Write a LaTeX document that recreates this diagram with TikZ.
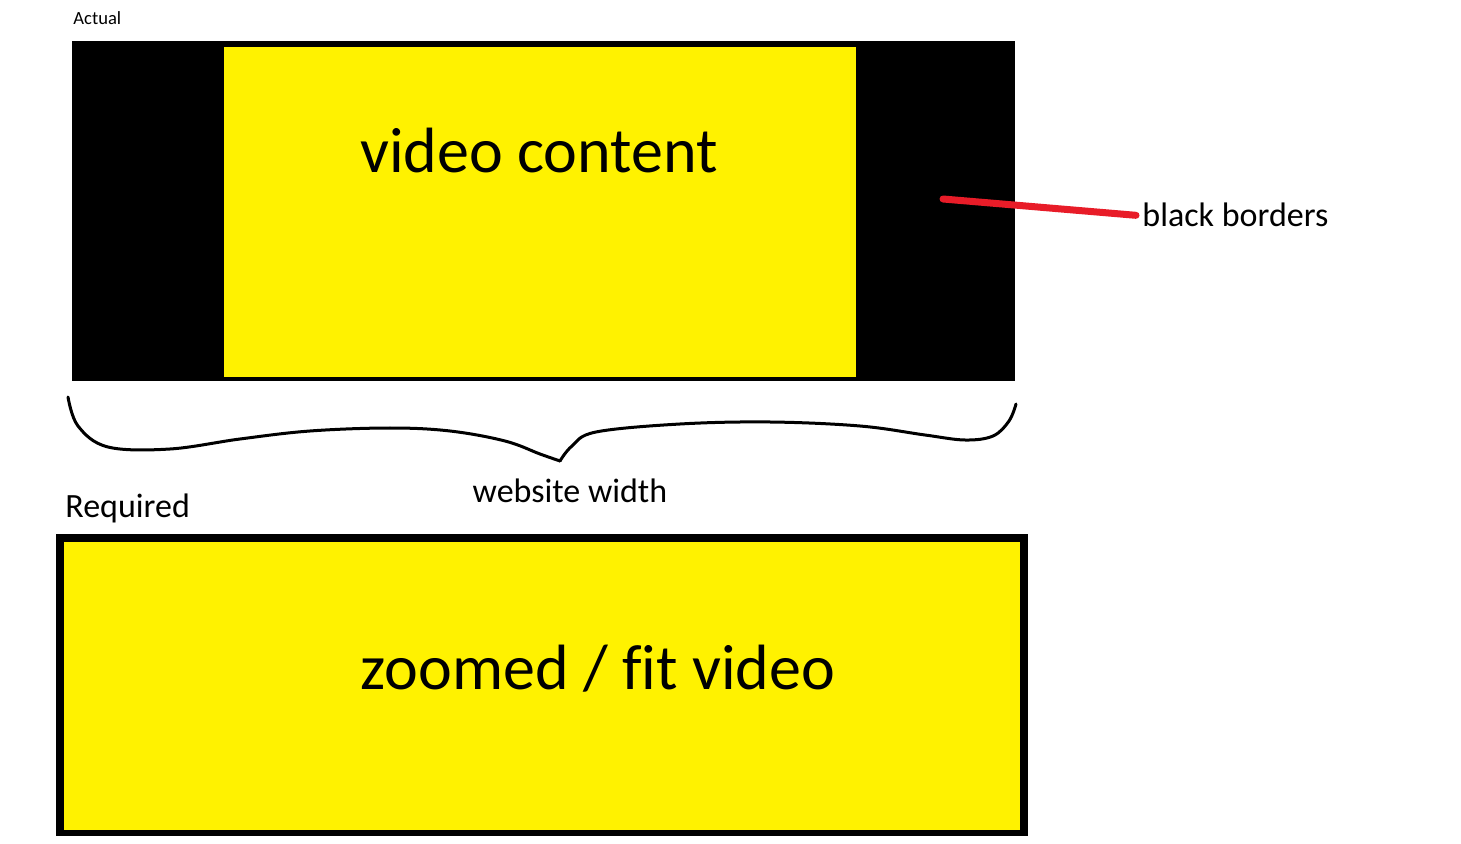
\documentclass[tikz,border=0pt]{standalone}
\usepackage{fontspec}
\setmainfont[Ligatures=NoCommon]{Carlito}
\usetikzlibrary{positioning}
\definecolor{vidyellow}{RGB}{255,242,0}
\definecolor{markred}{RGB}{232,28,40}

\begin{document}
\begin{tikzpicture}[x=0.5pt,y=-0.5pt,
  lbl/.style={inner sep=0pt, anchor=base west},
  biglbl/.style={inner sep=0pt, anchor=base, font=\fontsize{32pt}{36pt}\selectfont},
  midlbl/.style={font=\fontsize{17pt}{20pt}\selectfont},
  brace/.style={line width=1.5pt, line cap=round, line join=round}]
\useasboundingbox (0,0) rectangle (1461,844);
\fill[white] (0,0) rectangle (1461,844);

% actual: video with black bars
\node (actual) [lbl, font=\fontsize{9.3pt}{11pt}\selectfont] at (73,25) {Actual};
\fill[black] (72,41) rectangle (1015,381);
\fill[vidyellow] (224,47) rectangle (856,377);
\node (content) [biglbl] at (539,173) {video content};

% pointer to the bars
\coordinate (bar) at (943,199);
\node (borders) [lbl, midlbl] at (1142,227) {black borders};
\draw[markred, line width=3.5pt, line cap=round] (bar) -- ([xshift=-3pt]borders.west);

% brace under the frame
\draw[brace] plot[smooth, tension=0.6] coordinates {(68,397) (78,426) (108,447) (170,449)
  (240,439) (310,431) (390,428) (450,431) (505,441) (540,454) (560,461)};
\draw[brace] plot[smooth, tension=0.6] coordinates {(560,461) (572,446) (596,432) (680,424)
  (770,422) (860,426) (925,435) (965,440) (993,436) (1009,421) (1016,404)};
\node (width) [inner sep=0pt, anchor=base, midlbl] at (570,502) {website width};

% required: zoomed video
\node (required) [lbl, midlbl] at (65,517) {Required};
\fill[black] (56,534) rectangle (1028,836);
\fill[vidyellow] (64,542) rectangle (1020,830);
\node (zoomed) [biglbl] at (598,689) {zoomed / fit video};
\end{tikzpicture}
\end{document}
